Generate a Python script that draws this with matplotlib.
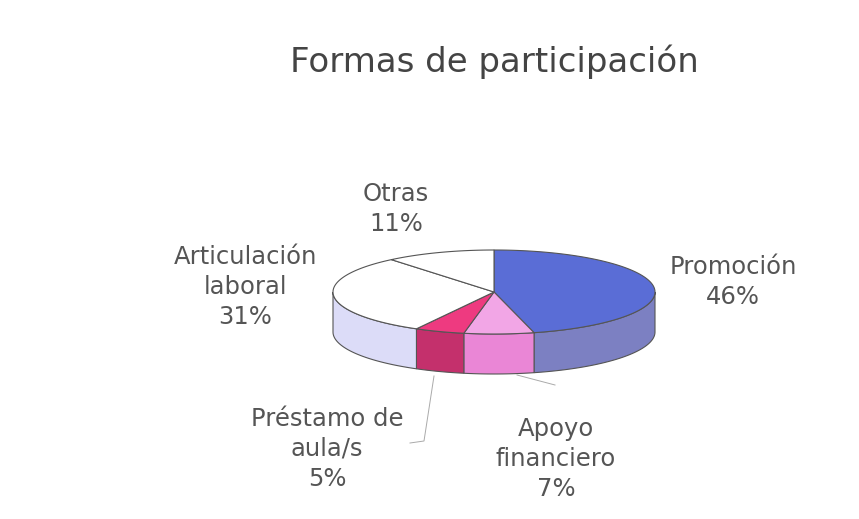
import numpy as np
import matplotlib.pyplot as plt
from matplotlib.patches import Polygon

labels = ["Promoción\n46%", "Apoyo\nfinanciero\n7%", "Préstamo de\naula/s\n5%",
          "Articulación\nlaboral\n31%", "Otras\n11%"]
values = [46, 7, 5, 31, 11]
top_colors = ["#5a6dd6", "#f2a6e6", "#ee3a80", "#ffffff", "#ffffff"]
side_colors = ["#7c80c2", "#ea86d6", "#c4306c", "#dcdcf8", "#ececf8"]
label_pos = [(733, 282), (556, 459), (327, 449), (245, 287), (396, 209)]

# pie geometry in pixel coords
cx, cy = 494, 292
rx, ry = 161, 42
depth = 40

fig = plt.figure(figsize=(8.59, 5.19), dpi=100)
ax = fig.add_axes([0, 0, 1, 1])
ax.set_xlim(0, 859)
ax.set_ylim(519, 0)
ax.axis("off")

def pt(a, dy=0):
    r = np.radians(a)
    return cx + rx * np.cos(r), cy - ry * np.sin(r) + dy

total = sum(values)
start = 90.0
slices = []
for v in values:
    end = start - 360.0 * v / total
    slices.append((start, end))
    start = end

ec = "#555555"
# sides first (front half only)
for (hi, lo), sc in zip(slices, side_colors):
    for k in (-1, 0, 1):
        a_hi = min(hi, 0 + 360 * k)
        a_lo = max(lo, -180 + 360 * k)
        if a_hi <= a_lo:
            continue
        angs = np.linspace(a_hi, a_lo, 60)
        topc = [pt(a) for a in angs]
        botc = [pt(a, depth) for a in angs[::-1]]
        ax.add_patch(Polygon(topc + botc, closed=True, fc=sc, ec=ec, lw=0.8, zorder=1))

# tops
for (hi, lo), tc in zip(slices, top_colors):
    angs = np.linspace(hi, lo, 100)
    pts = [(cx, cy)] + [pt(a) for a in angs]
    ax.add_patch(Polygon(pts, closed=True, fc=tc, ec=ec, lw=0.8, zorder=2))

for txt, (x, y) in zip(labels, label_pos):
    ax.text(x, y, txt, ha="center", va="center", fontsize=17.5, color="#555555",
            linespacing=1.3)

# leader lines
ax.plot([434, 424, 410], [376, 441, 443], color="#aaaaaa", lw=0.7)
ax.plot([517, 555], [375, 385], color="#aaaaaa", lw=0.7)

ax.text(494, 62, "Formas de participación", ha="center", va="center",
        fontsize=24.5, color="#444444")

fig.savefig("out.png", dpi=100, facecolor="white")
